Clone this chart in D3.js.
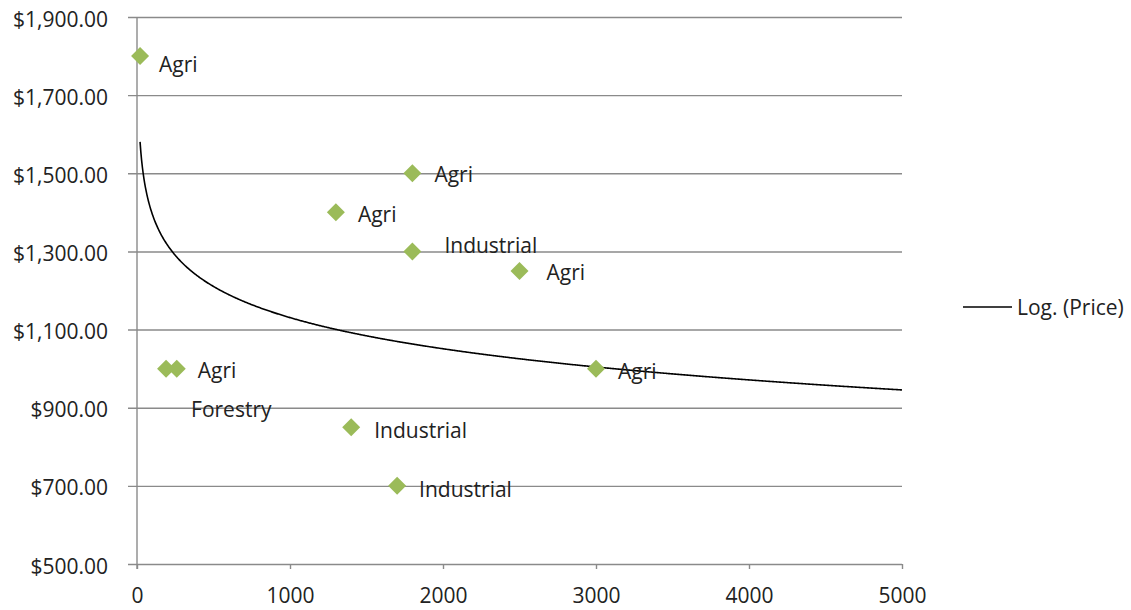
<!DOCTYPE html>
<html>
<head>
<meta charset="utf-8">
<script src="https://d3js.org/d3.v7.min.js"></script>
<style>
  body { margin: 0; background: #fff; }
  text { font-family: "Open Sans", sans-serif; fill: #222; }
</style>
</head>
<body>
<div id="my_dataviz"></div>
<script>
// data
var sectors = ["Agri", "Agri", "Agri", "Industrial", "Agri", "Forestry", "Agri", "Agri", "Industrial", "Industrial"];
var area = [20, 1800, 1300, 1800, 2500, 190, 260, 3000, 1400, 1700];
var price = [1800, 1500, 1400, 1300, 1250, 1000, 1000, 1000, 850, 700];
var xTicks = [0, 1000, 2000, 3000, 4000, 5000];
var yTicks = [500, 700, 900, 1100, 1300, 1500, 1700, 1900];
// logarithmic trendline y = a*ln(x) + b, as drawn
var trendA = -115, trendB = 1925;
var trendStart = 20, trendEnd = 5000;

// label nudges (px), Excel labels were dragged around by hand
var labelDx = [19, 22, 22, 32, 27, 25, 21, 22, 23, 22];
var labelDy = [16, 9, 10, 2, 9, 48, 9, 10, 11, 11];

// set the dimensions and margins of the graph
var margin = { top: 17, right: 229, bottom: 46, left: 137 },
  width = 1131 - margin.left - margin.right,
  height = 610 - margin.top - margin.bottom;

var svg = d3.select("#my_dataviz")
  .append("svg")
  .attr("width", 1131)
  .attr("height", 610)
  .append("g")
  .attr("transform", "translate(" + margin.left + "," + margin.top + ")");

var x = d3.scaleLinear().domain([0, 5000]).range([0, width]);
var y = d3.scaleLinear().domain([500, 1900]).range([height, 0]);

// Y axis + gridlines
var yAxis = svg.append("g")
  .call(d3.axisLeft(y)
    .tickValues(yTicks)
    .tickSize(-width)
    .tickPadding(29)
    .tickFormat(d3.format("$,.2f")));
yAxis.select(".domain").remove();
yAxis.selectAll("line")
  .attr("x1", -9)
  .attr("stroke", "#8a8a8a")
  .attr("stroke-width", 1.4);
yAxis.selectAll("text")
  .attr("dy", "0.43em")
  .style("font-size", "21px");

// X axis
var xAxis = svg.append("g")
  .attr("transform", "translate(0," + height + ")")
  .call(d3.axisBottom(x)
    .tickValues(xTicks)
    .tickSize(5)
    .tickSizeOuter(0)
    .tickPadding(19)
    .tickFormat(d3.format("d")));
xAxis.select(".domain").remove();
xAxis.selectAll("line").attr("stroke", "#8a8a8a").attr("stroke-width", 1.4);
xAxis.selectAll("text").style("font-size", "21px");

// vertical axis line
svg.append("line")
  .attr("x1", 0).attr("x2", 0)
  .attr("y1", 0).attr("y2", height + 5)
  .attr("stroke", "#8a8a8a")
  .attr("stroke-width", 1.4);

// trendline
var trendX = d3.range(trendStart, trendEnd, 5).concat([trendEnd]);
var line = d3.line()
  .x(function (d) { return x(d); })
  .y(function (d) { return y(trendA * Math.log(d) + trendB); });
svg.append("path")
  .datum(trendX)
  .attr("fill", "none")
  .attr("stroke", "#000")
  .attr("stroke-width", 1.6)
  .attr("d", line);

// points
var idx = d3.range(sectors.length);
var diamond = "M0,-9L9,0L0,9L-9,0Z";
svg.selectAll("mypoint")
  .data(idx)
  .enter()
  .append("path")
  .attr("d", diamond)
  .attr("fill", "#9bbb59")
  .attr("transform", function (i) { return "translate(" + x(area[i]) + "," + y(price[i]) + ")"; });

// data labels
svg.selectAll("mylabel")
  .data(idx)
  .enter()
  .append("text")
  .attr("x", function (i) { return x(area[i]) + labelDx[i]; })
  .attr("y", function (i) { return y(price[i]) + labelDy[i]; })
  .style("font-size", "21px")
  .text(function (i) { return sectors[i]; });

// legend
var legend = svg.append("g")
  .attr("transform", "translate(" + (963 - margin.left) + "," + (307 - margin.top) + ")");
legend.append("line")
  .attr("x1", 0).attr("x2", 49)
  .attr("stroke", "#000")
  .attr("stroke-width", 1.6);
legend.append("text")
  .attr("x", 54)
  .attr("y", 8)
  .style("font-size", "21px")
  .text("Log. (Price)");
</script>
</body>
</html>
